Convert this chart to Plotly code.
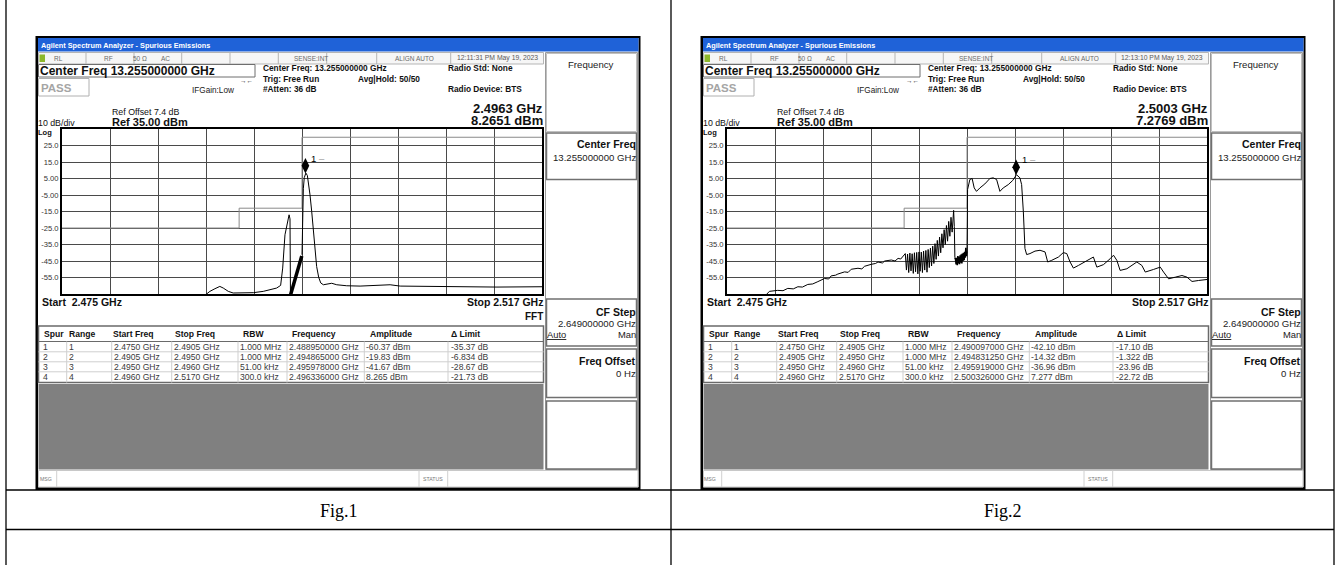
import plotly.graph_objects as go

W, H = 1338, 565
SANS = "Liberation Sans"
SERIF = "Liberation Serif"

# ---------------- data ----------------
span_start_ghz = 2.475
span_stop_ghz = 2.517
ref_level_dbm = 35.0
bottom_level_dbm = -65.0
div_ghz = 0.0042
y_tick_vals = [25, 15, 5, -5, -15, -25, -35, -45, -55]
y_tick_text = ["25.0", "15.0", "5.00", "-5.00", "-15.0", "-25.0", "-35.0", "-45.0", "-55.0"]

range_start_ghz = [2.4750, 2.4905, 2.4950, 2.4960]
range_stop_ghz = [2.4905, 2.4950, 2.4960, 2.5170]
limit_dbm = [-25.0, -13.0, -13.0, 30.0]

table_header = ["Spur", "Range", "Start Freq", "Stop Freq", "RBW", "Frequency", "Amplitude", "Δ Limit"]
spur_col = ["1", "2", "3", "4"]
range_col = ["1", "2", "3", "4"]
start_col = ["2.4750 GHz", "2.4905 GHz", "2.4950 GHz", "2.4960 GHz"]
stop_col = ["2.4905 GHz", "2.4950 GHz", "2.4960 GHz", "2.5170 GHz"]
rbw_col = ["1.000 MHz", "1.000 MHz", "51.00 kHz", "300.0 kHz"]
fig1_freq_col = ["2.488950000 GHz", "2.494865000 GHz", "2.495978000 GHz", "2.496336000 GHz"]
fig1_amp_col = ["-60.37 dBm", "-19.83 dBm", "-41.67 dBm", "8.265 dBm"]
fig1_dlim_col = ["-35.37 dB", "-6.834 dB", "-28.67 dB", "-21.73 dB"]
fig2_freq_col = ["2.490097000 GHz", "2.494831250 GHz", "2.495919000 GHz", "2.500326000 GHz"]
fig2_amp_col = ["-42.10 dBm", "-14.32 dBm", "-36.96 dBm", "7.277 dBm"]
fig2_dlim_col = ["-17.10 dB", "-1.322 dB", "-23.96 dB", "-22.72 dB"]

captions = ["Fig.1", "Fig.2"]
timestamps = ["12:11:31 PM May 19, 2023", "12:13:10 PM May 19, 2023"]
marker_freq_ghz = [2.4963, 2.5003]
marker_amp_dbm = [8.2651, 7.2769]
marker_freq_text = ["2.4963 GHz", "2.5003 GHz"]
marker_amp_text = ["8.2651 dBm", "7.2769 dBm"]
show_fft = [True, False]

# Fig.1 trace, ranges 1+2
fig1_f_a = [2.48756, 2.48794, 2.48838, 2.48881, 2.48911, 2.48955, 2.48998, 2.49042, 2.49050, 2.49086,
            2.49174, 2.49261, 2.49320, 2.49378, 2.49413, 2.49431, 2.49451, 2.49471, 2.49487, 2.49495, 2.49499]
fig1_db_a = [-65.5, -63.4, -61.8, -60.4, -61.4, -63.4, -64.4, -64.4, -64.5, -64.4,
             -64.2, -63.4, -62.6, -61.4, -59.8, -49.3, -29.1, -21.0, -17.0, -19.5, -65.5]
# Fig.1 trace, range 3 (dense)
fig1_f_b = [2.49500, 2.49515, 2.49530, 2.49545, 2.49560, 2.49575, 2.49590, 2.49598]
fig1_db_b = [-65.5, -62.0, -59.0, -56.0, -52.5, -48.5, -45.0, -42.0]
# Fig.1 trace, range 4
fig1_f_c = [2.49600, 2.49606, 2.49612, 2.49620, 2.49634, 2.49647, 2.49658, 2.49670, 2.49685, 2.49699,
            2.49714, 2.49728, 2.49746, 2.49764, 2.49787, 2.49831, 2.49860, 2.49904, 2.49991, 2.50108,
            2.50254, 2.50371, 2.50459, 2.50722, 2.51014, 2.51306, 2.51700]
fig1_db_c = [-41.2, -15.0, -0.9, 5.6, 8.27, 6.8, 2.1, -4.9, -15.0, -27.1,
             -39.2, -48.3, -54.9, -58.3, -59.4, -59.0, -58.5, -59.4, -60.0, -60.2,
             -59.8, -59.4, -60.2, -60.4, -60.6, -60.8, -60.6]

# Fig.2 trace, ranges 1+2
fig2_f_a = [2.47842, 2.47871, 2.47944, 2.47990, 2.48032, 2.48080, 2.48120, 2.48160, 2.48207, 2.48250,
            2.48295, 2.48353, 2.48390, 2.48412, 2.48450, 2.48470, 2.48529, 2.48560, 2.48587, 2.48646,
            2.48680, 2.48704, 2.48763, 2.48800, 2.48821, 2.48860, 2.48880, 2.48938, 2.48970, 2.48997,
            2.49020, 2.49040,
            2.4906, 2.4907, 2.4908, 2.4909, 2.4910, 2.4911, 2.4912, 2.4913, 2.4914, 2.4915,
            2.4916, 2.4917, 2.4918, 2.4919, 2.4920, 2.4921, 2.4922, 2.4923, 2.4924, 2.4925,
            2.4926, 2.4927, 2.4928, 2.4929, 2.4930, 2.4931, 2.4932, 2.4933, 2.4934, 2.4935,
            2.4936, 2.4937, 2.4938, 2.4939, 2.4940, 2.4941, 2.4942, 2.4943, 2.4944, 2.4945,
            2.4946, 2.4947, 2.49483, 2.49489, 2.49494]
fig2_db_a = [-65.5, -63.4, -62.8, -63.0, -61.6, -61.9, -60.6, -60.8, -59.2, -58.9,
             -57.5, -55.6, -55.9, -54.0, -53.6, -52.9, -51.6, -51.9, -50.0, -49.4,
             -49.8, -48.2, -47.0, -46.5, -45.6, -46.2, -45.0, -44.4, -45.0, -43.4,
             -43.8, -42.0,
             -40.5, -50.5, -40.8, -52.0, -40.2, -51.0, -40.6, -52.5, -40.0, -51.5,
             -39.8, -52.8, -39.5, -51.2, -39.6, -52.0, -39.0, -50.5, -38.6, -51.8,
             -38.0, -49.0, -37.2, -48.0, -36.0, -46.5, -34.5, -44.0, -32.5, -42.0,
             -30.5, -40.0, -28.5, -37.0, -26.0, -35.0, -23.5, -33.0, -21.0, -30.0,
             -18.5, -27.5, -14.3, -24.0, -43.0]
# Fig.2 trace, range 3 (dense)
fig2_f_b = [2.49494, 2.49500, 2.49505, 2.49510, 2.49515, 2.49520, 2.49525, 2.49530, 2.49535, 2.49540,
            2.49545, 2.49550, 2.49555, 2.49560, 2.49565, 2.49570, 2.49575, 2.49580, 2.49585, 2.49590,
            2.49595, 2.49600]
fig2_db_b = [-43.0, -44.0, -47.0, -43.0, -47.5, -42.0, -46.5, -42.5, -47.0, -41.5,
             -46.0, -41.0, -46.5, -40.5, -45.0, -40.0, -44.5, -39.5, -43.0, -37.0,
             -42.0, -39.0]
# Fig.2 trace, range 4
fig2_f_c = [2.49600, 2.49601, 2.49605, 2.49625, 2.49645, 2.49663, 2.49683, 2.49713, 2.49756, 2.49800,
            2.49829, 2.49859, 2.49873, 2.49888, 2.49917, 2.49961, 2.50000, 2.50033, 2.50063, 2.50078,
            2.50093, 2.50107, 2.50122, 2.50151, 2.50195, 2.50239, 2.50283, 2.50306, 2.50341, 2.50400,
            2.50443, 2.50473, 2.50502, 2.50531, 2.50575, 2.50633, 2.50677, 2.50706, 2.50736, 2.50794,
            2.50853, 2.50882, 2.50911, 2.50940, 2.50999, 2.51057, 2.51086, 2.51130, 2.51160, 2.51233,
            2.51291, 2.51320, 2.51364, 2.51423, 2.51481, 2.51525, 2.51569, 2.51627, 2.51700]
fig2_db_c = [-39.0, -4.8, -1.7, 4.4, 5.0, -0.7, -2.8, -0.7, 1.7, 5.0,
             5.4, 4.4, 0.3, -2.8, -0.7, 1.3, 3.8, 7.28, 5.4, 1.3,
             -15.0, -37.4, -41.1, -40.5, -39.0, -38.5, -39.5, -45.6, -44.6, -42.6,
             -39.9, -40.5, -45.6, -49.3, -47.7, -45.6, -43.6, -42.6, -48.7, -47.2,
             -43.6, -41.5, -44.6, -50.7, -49.7, -47.2, -45.6, -47.7, -51.7, -50.1,
             -48.7, -51.7, -55.8, -54.8, -53.8, -54.8, -57.4, -56.8, -56.2]

traces = [
    [(fig1_f_a, fig1_db_a, 1.0), (fig1_f_b, fig1_db_b, 3.5), (fig1_f_c, fig1_db_c, 1.0)],
    [(fig2_f_a, fig2_db_a, 1.0), (fig2_f_b, fig2_db_b, 1.6), (fig2_f_c, fig2_db_c, 1.0)],
]
tables = [
    (fig1_freq_col, fig1_amp_col, fig1_dlim_col),
    (fig2_freq_col, fig2_amp_col, fig2_dlim_col),
]

# ---------------- helpers ----------------
shapes = []
anns = []


def rect(x0, y0, x1, y1, fill=None, color=None, width=1):
    shapes.append(dict(type="rect", xref="paper", yref="paper",
                       x0=x0 / W, x1=x1 / W, y0=1 - y1 / H, y1=1 - y0 / H,
                       fillcolor=fill if fill else "rgba(0,0,0,0)",
                       line=dict(color=color if color else "rgba(0,0,0,0)", width=width if color else 0),
                       layer="below"))


def seg(x0, y0, x1, y1, color="#000", width=1):
    shapes.append(dict(type="line", xref="paper", yref="paper",
                       x0=x0 / W, x1=x1 / W, y0=1 - y0 / H, y1=1 - y1 / H,
                       line=dict(color=color, width=width), layer="below"))


def text(x, y, s, size, color="#000", bold=False, anchor="left", family=SANS):
    anns.append(dict(xref="paper", yref="paper", x=x / W, y=1 - y / H,
                     text=f"<b>{s}</b>" if bold else s, showarrow=False,
                     xanchor=anchor, yanchor="middle", borderpad=0, borderwidth=0,
                     font=dict(family=family, size=size, color=color)))


fig = go.Figure()

# outer document table
seg(6, 0, 6, H, "#000", 1.3)
seg(671, 0, 671, H, "#000", 1.3)
seg(1334, 0, 1334, H, "#000", 1.3)
seg(6, 490, 1334, 490, "#000", 1.3)
seg(6, 529.5, 1334, 529.5, "#000", 1.3)
text(338.5, 511, captions[0], 18, "#000", family=SERIF, anchor="center")
text(1002.5, 511, captions[1], 18, "#000", family=SERIF, anchor="center")


def screen(k, dx):
    X = lambda v: v + dx
    # window frame and screen
    rect(X(35.5), 36, X(640.5), 490, fill="#000000")
    rect(X(38), 38, X(638.5), 487.3, fill="#ffffff")
    rect(X(38), 38, X(638.5), 51.5, fill="#1f62d8")
    text(X(40.5), 45, "Agilent Spectrum Analyzer - Spurious Emissions", 7.3, "#ffffff", bold=True)
    # status row
    rect(X(38.5), 52.5, X(543.5), 64, fill="#f6f6f6", color="#b5b5b5", width=1)
    for sx in [86, 134, 181.7, 230, 278.3, 326.7, 376.7, 450.7]:
        seg(X(sx), 52.5, X(sx), 64, "#b5b5b5", 1)
    rect(X(39.5), 54.5, X(45), 62, fill="#8db82c")
    text(X(54), 58.3, "RL", 6.5, "#6a6a6a")
    text(X(109), 58.3, "RF", 6.5, "#6a6a6a", anchor="center")
    text(X(140), 58.3, "50 Ω", 6.5, "#6a6a6a", anchor="center")
    text(X(165.5), 58.3, "AC", 6.5, "#6a6a6a", anchor="center")
    text(X(310.5), 58.3, "SENSE:INT", 6.5, "#6a6a6a", anchor="center")
    text(X(414), 58.3, "ALIGN AUTO", 6.5, "#6a6a6a", anchor="center")
    text(X(497), 58.3, timestamps[k], 6.8, "#5a5a5a", anchor="center")
    # header block
    rect(X(38.5), 64.5, X(255), 77, color="#6e6e6e", width=1)
    text(X(40), 71, "Center Freq 13.255000000 GHz", 12, "#111", bold=True)
    rect(X(38.5), 78.5, X(89), 96, color="#b0b0b0", width=1)
    text(X(40.5), 87.5, "PASS", 11.5, "#a5a5a5", bold=True)
    text(X(247), 81, "→←", 6.5, "#222", anchor="center")
    text(X(192), 90.5, "IFGain:Low", 8.2, "#222")
    text(X(263), 68, "Center Freq: 13.255000000 GHz", 8.3, "#111", bold=True)
    text(X(263), 78.8, "Trig: Free Run", 8.3, "#111", bold=True)
    text(X(358), 78.8, "Avg|Hold: 50/50", 8.3, "#111", bold=True)
    text(X(263), 89.3, "#Atten: 36 dB", 8.3, "#111", bold=True)
    text(X(448), 68, "Radio Std: None", 8.3, "#111", bold=True)
    text(X(448), 89.3, "Radio Device: BTS", 8.3, "#111", bold=True)
    text(X(112), 112.5, "Ref Offset 7.4 dB", 8.8, "#111")
    text(X(37.5), 123.5, "10 dB/div", 8.8, "#111")
    text(X(112), 122.3, "Ref 35.00 dBm", 11, "#111", bold=True)
    text(X(542.5), 108.8, marker_freq_text[k], 13, "#111", bold=True, anchor="right")
    text(X(542.5), 120.8, marker_amp_text[k], 13, "#111", bold=True, anchor="right")
    text(X(37.5), 132.5, "Log", 7.5, "#111", bold=True)
    # under plot
    text(X(41.5), 302, "Start  2.475 GHz", 10.5, "#111", bold=True)
    text(X(542.5), 302, "Stop 2.517 GHz", 10.5, "#111", bold=True, anchor="right")
    if show_fft[k]:
        text(X(542.5), 316, "FFT", 10, "#111", bold=True, anchor="right")
    # spur table
    t_top, t_head, t_bot = 326, 341.5, 382.5
    rect(X(38.5), t_top, X(543.5), t_bot, fill="#ffffff", color="#6a6a6a", width=1.5)
    seg(X(38.5), t_head, X(543.5), t_head, "#6a6a6a", 1)
    row_y = [346.8, 356.8, 366.8, 376.8]
    for ry in row_y[:-1]:
        seg(X(38.5), ry + 5, X(543.5), ry + 5, "#cfcfcf", 1)
    for cx in [66.7, 111.7, 171.7, 238, 287, 364.3, 448]:
        seg(X(cx), t_head, X(cx), t_bot, "#cfcfcf", 1)
    head_x = [44, 69, 113, 175, 242.5, 291.5, 370, 451.5]
    for hx, h in zip(head_x, table_header):
        text(X(hx), 334, h, 8.6, "#111", bold=True)
    fcol, acol, dcol = tables[k]
    cols = [spur_col, range_col, start_col, stop_col, rbw_col, fcol, acol, dcol]
    data_x = [43, 69, 113.5, 173.5, 240, 288.5, 365.5, 450.5]
    for cx, col in zip(data_x, cols):
        for ry, s in zip(row_y, col):
            text(X(cx), ry, s, 8.6, "#3a3a3a")
    # grey empty area
    rect(X(38.5), 384, X(543.5), 469.5, fill="#808080")
    # bottom status bar
    rect(X(38.5), 470.5, X(638), 487, fill="#ffffff", color="#c8c8c8", width=1)
    seg(X(56.7), 470.5, X(56.7), 487, "#d0d0d0", 1)
    seg(X(419), 470.5, X(419), 487, "#d0d0d0", 1)
    seg(X(447.7), 470.5, X(447.7), 487, "#d0d0d0", 1)
    text(X(39.5), 479, "MSG", 5.2, "#777")
    text(X(433.3), 479, "STATUS", 5.2, "#777", anchor="center")
    # softkey panel
    rect(X(545.5), 52.5, X(637.5), 469.5, fill="#ffffff", color="#9a9a9a", width=1)
    rect(X(546.5), 53.5, X(636.5), 131.5, color="#c0c0c0", width=1)
    for (b0, b1) in [(133, 179.5), (299, 346), (349, 397.5), (401, 469)]:
        rect(X(546.5), b0, X(636.5), b1, fill="#ffffff", color="#707070", width=1.5)
    text(X(591), 64.5, "Frequency", 9.6, "#222", anchor="center")
    text(X(636), 143.5, "Center Freq", 10.5, "#111", bold=True, anchor="right")
    text(X(636), 157.5, "13.255000000 GHz", 9.6, "#222", anchor="right")
    text(X(636), 312, "CF Step", 10.5, "#111", bold=True, anchor="right")
    text(X(636), 323.5, "2.649000000 GHz", 9.6, "#222", anchor="right")
    text(X(547), 334, "<u>Auto</u>", 9.4, "#222")
    text(X(636), 334, "Man", 9.4, "#222", anchor="right")
    text(X(636), 360.5, "Freq Offset", 10.5, "#111", bold=True, anchor="right")
    text(X(636), 373.5, "0 Hz", 9.6, "#222", anchor="right")


screen(0, 0)
screen(1, 665)

# limit line (from table ranges)
lim_x, lim_y = [], []
for s, e, l in zip(range_start_ghz, range_stop_ghz, limit_dbm):
    lim_x += [s, e]
    lim_y += [l, l]

plot_px = [(62, 542), (727, 1207)]
for k in range(2):
    xa = "x" if k == 0 else "x2"
    ya = "y" if k == 0 else "y2"
    fig.add_trace(go.Scatter(x=lim_x, y=lim_y, mode="lines", line=dict(color="#8a8a8a", width=1),
                             xaxis=xa, yaxis=ya, showlegend=False, hoverinfo="skip"))
    for fx, dy, lw in traces[k]:
        fig.add_trace(go.Scatter(x=fx, y=dy, mode="lines", line=dict(color="#000000", width=lw),
                                 xaxis=xa, yaxis=ya, showlegend=False, hoverinfo="skip"))
    fig.add_trace(go.Scatter(x=[marker_freq_ghz[k]], y=[marker_amp_dbm[k] + 4.5], mode="markers",
                             marker=dict(symbol="diamond-tall", size=11, color="#000"),
                             xaxis=xa, yaxis=ya, showlegend=False, hoverinfo="skip"))
    anns.append(dict(xref=xa, yref=ya, x=marker_freq_ghz[k], y=marker_amp_dbm[k] + 9,
                     text="1 <span style='color:#999'>–</span>", showarrow=False, xanchor="left",
                     yanchor="middle", xshift=4,
                     font=dict(family=SANS, size=9.5, color="#000")))

axis_common_x = dict(range=[span_start_ghz, span_stop_ghz], tick0=span_start_ghz, dtick=div_ghz,
                     showticklabels=False, ticks="", showgrid=True, gridcolor="#4a4a4a", gridwidth=1,
                     showline=True, mirror=True, linecolor="#000", linewidth=2, zeroline=False,
                     fixedrange=True)
axis_common_y = dict(range=[bottom_level_dbm, ref_level_dbm], tickvals=y_tick_vals, ticktext=y_tick_text,
                     tickfont=dict(family=SANS, size=7.6, color="#333"), ticks="",
                     showgrid=True, gridcolor="#4a4a4a", gridwidth=1,
                     showline=True, mirror=True, linecolor="#000", linewidth=2, zeroline=False,
                     fixedrange=True)

fig.update_layout(
    width=W, height=H, margin=dict(l=0, r=0, t=0, b=0),
    paper_bgcolor="#ffffff", plot_bgcolor="#ffffff",
    showlegend=False,
    xaxis=dict(domain=[plot_px[0][0] / W, plot_px[0][1] / W], anchor="y", **axis_common_x),
    yaxis=dict(domain=[1 - 294 / H, 1 - 129 / H], anchor="x", **axis_common_y),
    xaxis2=dict(domain=[plot_px[1][0] / W, plot_px[1][1] / W], anchor="y2", **axis_common_x),
    yaxis2=dict(domain=[1 - 294 / H, 1 - 129 / H], anchor="x2", **axis_common_y),
    shapes=shapes, annotations=anns,
)

fig.write_html("out.html", config={"displayModeBar": False},
               post_script="document.body.style.margin='0px';document.body.style.padding='0px';")
